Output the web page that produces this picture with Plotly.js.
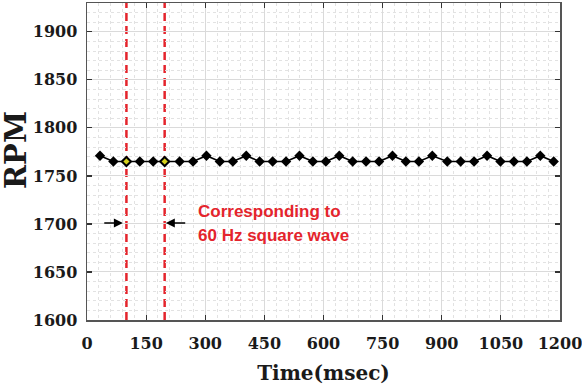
<!DOCTYPE html>
<html>
<head>
<meta charset="utf-8">
<script src="https://cdn.plot.ly/plotly-3.0.1.min.js"></script>
<style>html,body{margin:0;padding:0;background:#fff;}#chart{width:582px;height:385px;}</style>
</head>
<body>
<div id="chart"></div>
<script>
// ---- data ----
const timeMs = [33, 67, 100, 134, 168, 197, 235, 269, 303, 337, 370, 404, 438, 471, 505,
                539, 573, 606, 640, 674, 708, 741, 775, 809, 842, 876, 914, 948, 982, 1015,
                1049, 1083, 1116, 1150, 1184];
const rpm = [1771, 1765, 1765, 1765, 1765, 1765, 1765, 1765, 1771, 1765, 1765, 1771, 1765, 1765, 1765,
             1771, 1765, 1765, 1771, 1765, 1765, 1765, 1771, 1765, 1765, 1771, 1765, 1765, 1765, 1771,
             1765, 1765, 1765, 1771, 1765];
const markTimes = [100, 197];               // red dashed lines (60 Hz square wave)
const arrowLevel = 1701;
const leftArrow = [40, 91];                 // tail, head
const rightArrow = [253, 200];              // tail, head
const noteLines = ["Corresponding to", "60 Hz square wave"];
const noteY = [1713, 1688];
const xTicks = [0, 150, 300, 450, 600, 750, 900, 1050, 1200];
const yTicks = [1600, 1650, 1700, 1750, 1800, 1850, 1900];

// ---- build ----
const M = {l: 87, r: 22, t: 3, b: 65}, W = 582, H = 385;
const markerColors = timeMs.map(t => markTimes.includes(t) ? '#d6d21c' : '#000000');
const markerSizes = timeMs.map(t => markTimes.includes(t) ? 7 : 8);
const markerLineW = timeMs.map(t => markTimes.includes(t) ? 2 : 0);

const trace = {
  x: timeMs, y: rpm, type: 'scatter', mode: 'lines+markers',
  line: {color: '#000', width: 1.6},
  marker: {symbol: 'diamond', size: markerSizes, opacity: 1, color: markerColors,
           line: {color: '#000', width: markerLineW}},
  hoverinfo: 'skip'
};

const tickFont = {family: 'DejaVu Serif', size: 16, color: '#1a1a1a', weight: 700};
const shapes = markTimes.map(t => ({
  type: 'line', xref: 'x', yref: 'paper', x0: t, x1: t, y0: 0, y1: 1,
  line: {color: '#e4242c', width: 2.5, dash: '8px,5px'}, layer: 'between'
}));

const annotations = [
  {x: leftArrow[1], y: arrowLevel, ax: leftArrow[0], ay: arrowLevel, xref: 'x', yref: 'y', axref: 'x', ayref: 'y',
   showarrow: true, arrowhead: 2, arrowsize: 1.2, arrowwidth: 1.5, arrowcolor: '#000', text: ''},
  {x: rightArrow[1], y: arrowLevel, ax: rightArrow[0], ay: arrowLevel, xref: 'x', yref: 'y', axref: 'x', ayref: 'y',
   showarrow: true, arrowhead: 2, arrowsize: 1.2, arrowwidth: 1.5, arrowcolor: '#000', text: ''},
  {x: (16 - M.l) / (W - M.l - M.r), y: 1 - (150 - M.t) / (H - M.t - M.b), xref: 'paper', yref: 'paper',
   showarrow: false, text: 'RPM', textangle: -90, xanchor: 'center', yanchor: 'middle',
   font: {family: 'DejaVu Serif', size: 29, color: '#1a1a1a', weight: 700}}
].concat(noteLines.map((s, i) => ({
  x: 276, y: noteY[i], xref: 'x', yref: 'y', xanchor: 'left', yanchor: 'middle', showarrow: false, text: s,
  font: {family: 'Liberation Sans', size: 17, color: '#e4242c', weight: 700}
})));

const layout = {
  width: W, height: H,
  margin: M,
  paper_bgcolor: '#fff', plot_bgcolor: '#fff',
  showlegend: false,
  xaxis: {
    range: [0, 1200], tickvals: xTicks, ticktext: xTicks.map(String),
    ticks: 'inside', ticklen: 5, tickwidth: 1.2, tickcolor: '#333',
    showline: true, linecolor: '#555', linewidth: 1.5, mirror: 'ticks',
    showgrid: true, gridcolor: '#dadada', gridwidth: 1,
    minor: {dtick: 30, showgrid: true, gridcolor: '#e2e2e2', griddash: 'dot', gridwidth: 1},
    zeroline: false, tickfont: tickFont, ticklabelstandoff: 8, ticklabeloverflow: 'allow',
    title: {text: 'Time(msec)', font: {family: 'DejaVu Serif', size: 20, color: '#1a1a1a', weight: 700}, standoff: 18}
  },
  yaxis: {
    range: [1600, 1930], tickvals: yTicks, ticktext: yTicks.map(String),
    ticks: 'inside', ticklen: 5, tickwidth: 1.2, tickcolor: '#333',
    showline: true, linecolor: '#555', linewidth: 1.5, mirror: 'ticks',
    showgrid: true, gridcolor: '#dadada', gridwidth: 1,
    minor: {dtick: 10, showgrid: true, gridcolor: '#e2e2e2', griddash: 'dot', gridwidth: 1},
    zeroline: false, tickfont: tickFont, ticklabelstandoff: 5, ticklabeloverflow: 'allow'
  },
  shapes: shapes,
  annotations: annotations
};

Plotly.newPlot('chart', [trace], layout, {staticPlot: true, displayModeBar: false});
</script>
</body>
</html>
